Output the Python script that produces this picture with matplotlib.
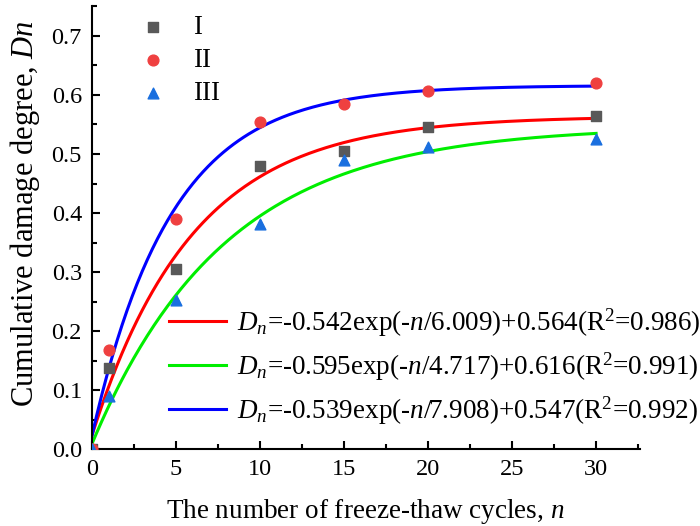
import numpy as np
import matplotlib
matplotlib.use("Agg")
import matplotlib.pyplot as plt
from matplotlib.ticker import MultipleLocator, FormatStrFormatter

plt.rcParams['font.family'] = ['Liberation Serif', 'DejaVu Serif']
plt.rcParams['mathtext.fontset'] = 'custom'
plt.rcParams['mathtext.rm'] = 'Liberation Serif'
plt.rcParams['mathtext.it'] = 'Liberation Serif:italic'

# measured damage degree
cycles = [0, 1, 5, 10, 15, 20, 30]
dn_I = [0.0, 0.138, 0.305, 0.480, 0.505, 0.545, 0.565]
dn_II = [0.0, 0.168, 0.390, 0.555, 0.585, 0.607, 0.620]
dn_III = [0.0, 0.090, 0.252, 0.382, 0.490, 0.512, 0.525]

# fitted curves: Dn = -a*exp(-n/t) + c  (curve colours as in the original figure)
fit_a = [0.542, 0.539, 0.595]
fit_t = [6.009, 7.908, 4.717]
fit_c = [0.564, 0.547, 0.616]
fit_colors = ['#ff0000', '#00ee00', '#0000ff']
fit_labels = [
    r'$D_n$=-0.542exp(-$n$/6.009)+0.564(R$^2$=0.986)',
    r'$D_n$=-0.595exp(-$n$/4.717)+0.616(R$^2$=0.991)',
    r'$D_n$=-0.539exp(-$n$/7.908)+0.547(R$^2$=0.992)',
]

fig = plt.figure(figsize=(7.0, 5.26), dpi=100)
ax = fig.add_axes([0.131, 0.146, 0.783, 0.843])

nn = np.linspace(0, 30, 300)
line_handles = []
for a, t, c, col in zip(fit_a, fit_t, fit_c, fit_colors):
    h, = ax.plot(nn, -a * np.exp(-nn / t) + c, color=col, lw=2.2, zorder=2)
    line_handles.append(h)

s1 = ax.scatter(cycles, dn_I, marker='s', s=45, color='#595959', zorder=3, label='I')
s2 = ax.scatter(cycles, dn_II, marker='o', s=60, color='#ef4040', zorder=3, label='II')
s3 = ax.scatter(cycles, dn_III, marker='^', s=60, color='#1a6fdf', zorder=3, label='III')

ax.set_xlim(0, 32.6)
ax.set_ylim(0, 0.751)
ax.set_xticks([0, 5, 10, 15, 20, 25, 30])
ax.xaxis.set_minor_locator(MultipleLocator(2.5))
ax.yaxis.set_major_locator(MultipleLocator(0.1))
ax.yaxis.set_minor_locator(MultipleLocator(0.05))
ax.yaxis.set_major_formatter(FormatStrFormatter('%.1f'))
ax.spines['top'].set_visible(False)
ax.spines['right'].set_visible(False)
for sp in ['left', 'bottom']:
    ax.spines[sp].set_linewidth(1.5)
ax.tick_params(which='both', direction='in', width=1.5, labelsize=17.5)
ax.tick_params(which='major', length=6)
ax.tick_params(which='minor', length=3.5)
ax.tick_params(axis='y', pad=7)
ax.tick_params(axis='x', pad=7)

ax.set_xlabel('The number of freeze-thaw cycles, $n$', fontsize=19.5, labelpad=12)
ax.set_ylabel('Cumulative damage degree, $Dn$', fontsize=22)
ax.yaxis.set_label_coords(-0.09, 0.532)

leg1 = ax.legend(handles=[s1, s2, s3], loc='upper left', bbox_to_anchor=(0.0867, 0.98),
                 frameon=False, fontsize=19.5, handlelength=1.0, handletextpad=1.0,
                 labelspacing=0.3, borderpad=0, borderaxespad=0)
ax.add_artist(leg1)
ax.legend(handles=line_handles, labels=fit_labels, loc='upper left',
          bbox_to_anchor=(0.1405, 0.321), frameon=False, fontsize=19.5,
          handlelength=2.1, handletextpad=0.44, labelspacing=0.42,
          borderpad=0, borderaxespad=0)

fig.savefig('out.png', dpi=100)
